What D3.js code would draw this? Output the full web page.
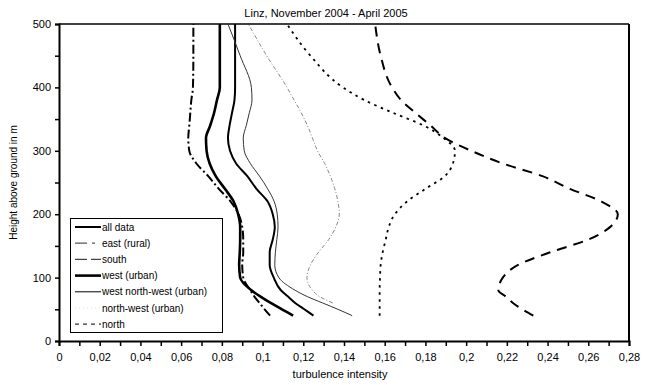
<!DOCTYPE html>
<html>
<head>
<meta charset="utf-8">
<script src="https://cdn.jsdelivr.net/npm/d3@7"></script>
<style>
  html, body { margin: 0; padding: 0; background: #fff; }
  svg { display: block; font-family: "Liberation Sans", Arial, sans-serif; }
</style>
</head>
<body>
<svg id="chart" width="646" height="385"></svg>
<script>
// Height levels (m above ground) shared by all profiles
const heights = [40, 50, 60, 70, 80, 100, 120, 140, 160, 180, 200, 220, 240, 260, 280, 300, 320, 340, 360, 380, 400, 450, 500];

// Turbulence intensity profiles per wind sector
const allData   = [0.125, 0.1205, 0.116, 0.1125, 0.109, 0.1055, 0.1035, 0.1035, 0.105, 0.106, 0.105, 0.1025, 0.097, 0.0925, 0.087, 0.084, 0.083, 0.0838, 0.085, 0.0862, 0.0865, 0.0865, 0.0865];
const eastRural = [0.1037, 0.101, 0.0985, 0.096, 0.094, 0.0905, 0.09, 0.0905, 0.0905, 0.09, 0.0882, 0.0843, 0.0785, 0.0733, 0.0675, 0.064, 0.0635, 0.064, 0.0645, 0.065, 0.0658, 0.066, 0.066];
const south     = [0.233, 0.2275, 0.223, 0.2195, 0.2158, 0.218, 0.2255, 0.2413, 0.26, 0.2708, 0.2745, 0.2665, 0.251, 0.2375, 0.218, 0.2025, 0.1897, 0.1825, 0.175, 0.168, 0.1636, 0.158, 0.1553];
const westUrban = [0.115, 0.1095, 0.104, 0.099, 0.0945, 0.089, 0.0885, 0.0888, 0.089, 0.089, 0.088, 0.0858, 0.0815, 0.077, 0.074, 0.0725, 0.0722, 0.0743, 0.0762, 0.0776, 0.079, 0.079, 0.079];
const wnwUrban  = [0.144, 0.137, 0.1295, 0.122, 0.116, 0.108, 0.106, 0.1063, 0.107, 0.1076, 0.1072, 0.1057, 0.1025, 0.0985, 0.094, 0.091, 0.0905, 0.092, 0.0935, 0.0948, 0.0945, 0.089, 0.083];
const nwUrban   = [null, null, 0.1345, 0.128, 0.1245, 0.1218, 0.1235, 0.1275, 0.1325, 0.136, 0.1377, 0.137, 0.1355, 0.1333, 0.1305, 0.127, 0.1245, 0.122, 0.119, 0.1155, 0.112, 0.102, 0.093];
const north     = [0.1575, 0.1575, 0.1575, 0.1575, 0.1575, 0.1577, 0.158, 0.159, 0.1605, 0.162, 0.165, 0.171, 0.18, 0.1895, 0.1935, 0.1945, 0.189, 0.179, 0.164, 0.15, 0.1395, 0.1235, 0.112];

const seriesNames = ["all data", "east (rural)", "south", "west (urban)", "west north-west (urban)", "north-west (urban)", "north"];
const seriesValues = [allData, eastRural, south, westUrban, wnwUrban, nwUrban, north];

const xTicks = [0, 0.02, 0.04, 0.06, 0.08, 0.1, 0.12, 0.14, 0.16, 0.18, 0.2, 0.22, 0.24, 0.26, 0.28];
const yTicks = [0, 100, 200, 300, 400, 500];

const titleText = "Linz, November 2004 - April 2005";
const xLabel = "turbulence intensity";
const yLabel = "Height above ground in m";

// Line styles per series (same order as seriesNames)
const styles = [
  { stroke: "#000", width: 2,   dash: null },
  { stroke: "#000", width: 2,   dash: "9,3,2,3" },
  { stroke: "#000", width: 2,   dash: "10,7" },
  { stroke: "#000", width: 2.6, dash: null },
  { stroke: "#333", width: 1,   dash: null },
  { stroke: "#888", width: 1,   dash: "4,2,1,2" },
  { stroke: "#000", width: 1.8, dash: "2.5,4.5" }
];

const svg = d3.select("#chart");
const margin = { left: 59, right: 17, top: 24, bottom: 44 };
const W = 646, H = 385;

const x = d3.scaleLinear().domain([0, 0.28]).range([margin.left, W - margin.right]);
const y = d3.scaleLinear().domain([0, 500]).range([H - margin.bottom, margin.top]);

const fmt = v => String(+v.toFixed(2)).replace(".", ",");

// Plot frame (top and right)
svg.append("line").attr("x1", x(0)).attr("x2", x(0.28)).attr("y1", y(500)).attr("y2", y(500))
  .attr("stroke", "#000").attr("stroke-width", 1.5);
svg.append("line").attr("x1", x(0.28)).attr("x2", x(0.28)).attr("y1", y(500)).attr("y2", y(0))
  .attr("stroke", "#000").attr("stroke-width", 2);

// X axis: minor ticks every 0.01, labels on the listed ticks
const xAxis = d3.axisBottom(x)
  .tickValues(d3.range(0, 0.2801, 0.01))
  .tickSize(5)
  .tickFormat(d => (xTicks.some(t => Math.abs(t - d) < 1e-6) ? fmt(d) : ""));
const gx = svg.append("g").attr("transform", `translate(0,${y(0)})`).call(xAxis);
gx.select(".domain").attr("stroke-width", 2);
gx.selectAll(".tick line").attr("stroke-width", 1.5);
gx.selectAll("text").attr("font-size", 11).attr("dy", "1.05em").attr("fill", "#000");

// Y axis: minor ticks every 50 m, labels on the listed ticks
const yAxis = d3.axisLeft(y)
  .tickValues(d3.range(0, 501, 50))
  .tickSize(4)
  .tickFormat(d => (yTicks.includes(d) ? String(d) : ""));
const gy = svg.append("g").attr("transform", `translate(${x(0)},0)`).call(yAxis);
gy.select(".domain").attr("stroke-width", 2);
gy.selectAll(".tick line").attr("stroke-width", 1.5);
gy.selectAll("text").attr("font-size", 11).attr("fill", "#000").attr("x", -8);

// Profiles
const line = d3.line()
  .defined(d => d[1] !== null)
  .x(d => x(d[1]))
  .y(d => y(d[0]))
  .curve(d3.curveMonotoneY);

const plot = svg.append("g");
seriesValues.forEach((vals, i) => {
  const pts = heights.map((h, j) => [h, vals[j]]);
  const s = styles[i];
  plot.append("path")
    .attr("d", line(pts))
    .attr("fill", "none")
    .attr("stroke", s.stroke)
    .attr("stroke-width", s.width)
    .attr("stroke-dasharray", s.dash)
    .attr("stroke-linejoin", "round");
});

// Legend
const lg = svg.append("g").attr("transform", "translate(70,218)");
lg.append("rect").attr("x", 0.5).attr("y", 0.5).attr("width", 152).attr("height", 114)
  .attr("fill", "#fff").attr("stroke", "#000").attr("stroke-width", 1);
const legendSamples = [
  { stroke: "#000", width: 2,   dash: null },
  { stroke: "#555", width: 1.2, dash: "12,5,3,30" },
  { stroke: "#444", width: 1.2, dash: "12,4,10,30" },
  { stroke: "#000", width: 2.6, dash: null },
  { stroke: "#000", width: 1,   dash: null },
  { stroke: "#ddd", width: 1,   dash: "1,3" },
  { stroke: "#333", width: 1.2, dash: "4,4" }
];
seriesNames.forEach((name, i) => {
  const yy = 9 + i * 16.2;
  const s = legendSamples[i];
  lg.append("line").attr("x1", 5).attr("x2", 31).attr("y1", yy).attr("y2", yy)
    .attr("stroke", s.stroke).attr("stroke-width", s.width).attr("stroke-dasharray", s.dash);
  lg.append("text").attr("x", 32).attr("y", yy).attr("dy", "0.35em")
    .attr("font-size", 10).attr("fill", "#000").text(name);
});

// Titles
svg.append("text").attr("x", 326).attr("y", 17).attr("text-anchor", "middle")
  .attr("font-size", 11).attr("fill", "#000").text(titleText);
svg.append("text").attr("x", 340).attr("y", 378).attr("text-anchor", "middle")
  .attr("font-size", 11).attr("fill", "#000").text(xLabel);
svg.append("text").attr("transform", `translate(17,${(y(0) + y(500)) / 2}) rotate(-90)`)
  .attr("text-anchor", "middle").attr("font-size", 10).attr("fill", "#000").text(yLabel);
</script>
</body>
</html>
